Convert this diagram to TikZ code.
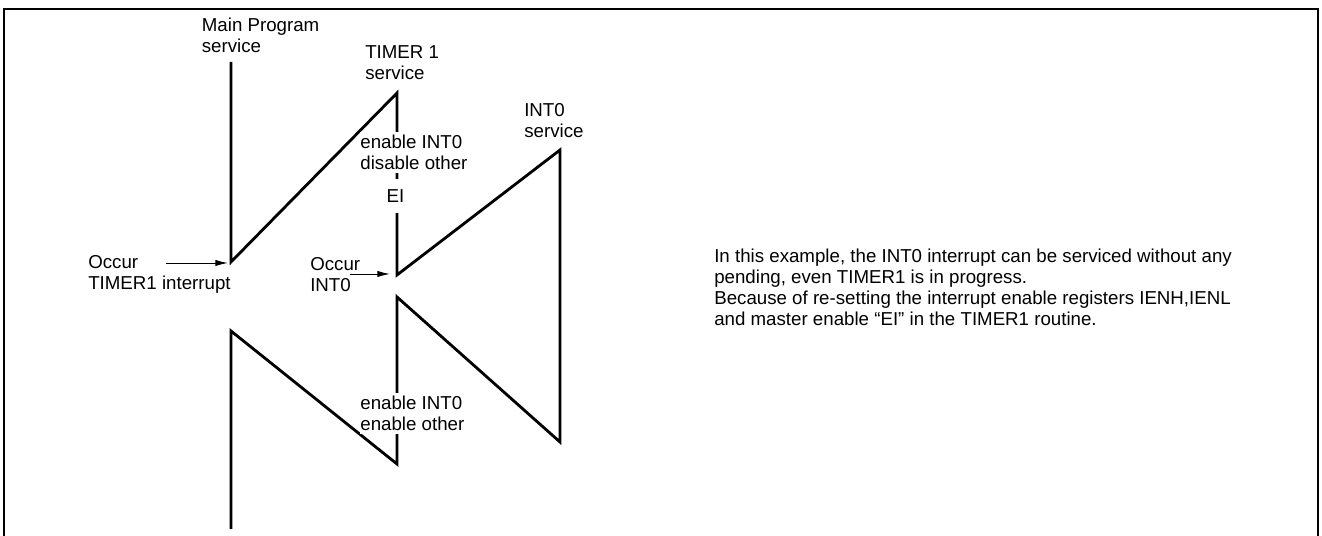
\documentclass[tikz,border=0pt]{standalone}
\usepackage{fontspec}
\setmainfont{Liberation Sans}
\usetikzlibrary{arrows.meta,positioning}

\begin{document}
\begin{tikzpicture}[
  flow/.style={line width=2pt,line join=miter},
  txt/.style={anchor=north west,align=left,inner sep=0pt,font=\fontsize{13.3}{14.9}\selectfont},
  cover/.style={txt,fill=white,inner xsep=0.5pt,inner ysep=2pt},
  occur/.style={-{Latex[length=9pt,width=4.5pt]},line width=0.7pt}]
 \useasboundingbox (0,0) rectangle (33.05,13.4);
 \draw[line width=1.8pt] (0.1,0) -- (0.1,13.175) -- (32.95,13.175) -- (32.95,0);
 % corners of the service zigzag
 \coordinate (m0) at (5.775,11.85);
 \coordinate (m1) at (5.775,6.85);
 \coordinate (t0) at (9.925,11.075);
 \coordinate (t1) at (9.925,6.525);
 \coordinate (i0) at (14.0,9.65);
 \coordinate (i1) at (14.0,2.35);
 \coordinate (t2) at (9.925,5.975);
 \coordinate (t3) at (9.925,1.8);
 \coordinate (m2) at (5.775,5.125);
 \coordinate (m3) at (5.775,0.175);
 \draw[flow] (m0) -- (m1) -- (t0) -- (t1) -- (i0) -- (i1) -- (t2) -- (t3) -- (m2) -- (m3);
 % service titles
 \node[txt] (mainlbl) at (5.04,12.95) {Main Program\\service};
 \node[txt] (timlbl) at (9.125,12.275) {TIMER 1\\service};
 \node[txt] (intlbl) at (13.1,10.825) {INT0\\service};
 % texts over the TIMER1 line
 \node[cover] (dis) at (8.985,10.095) {enable INT0\\disable other};
 \node[txt,fill=white,anchor=center,inner xsep=2pt,inner ysep=7.5pt] (ei) at (9.8875,8.5) {EI};
 \node[cover] (ena) at (8.985,3.57) {enable INT0\\enable other};
 % interrupt requests
 \node[txt] (occtim) at (2.2,7.025) {Occur\\TIMER1 interrupt};
 \coordinate (a0) at (4.15,6.825);
 \coordinate (a1) at (5.7,6.825);
 \draw[occur] (a0) -- (a1);
 \node[txt] (occint) at (7.75,6.975) {Occur\\INT0};
 \coordinate (b0) at (8.75,6.55);
 \coordinate (b1) at (9.75,6.55);
 \draw[occur] (b0) -- (b1);
 % note
 \node[txt] (note) at (17.85,7.175) {In this example, the INT0 interrupt can be serviced without any\\pending, even TIMER1 is in progress.\\Because of re-setting the interrupt enable registers IENH,IENL\\and master enable “EI” in the TIMER1 routine.};
\end{tikzpicture}
\end{document}
